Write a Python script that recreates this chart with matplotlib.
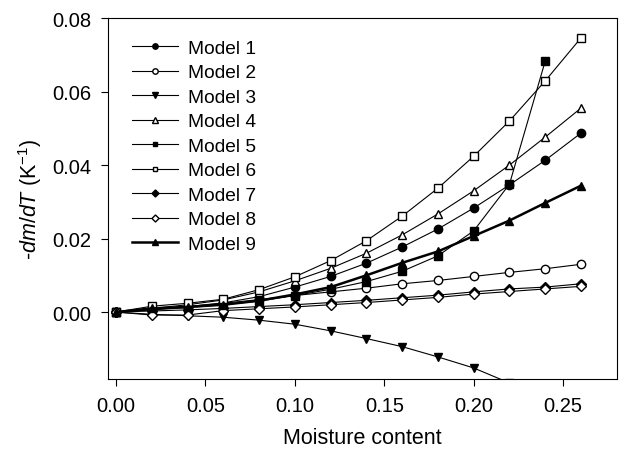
import numpy as np
import matplotlib
matplotlib.use("Agg")
import matplotlib.pyplot as plt

plt.rcParams['font.family'] = ['Liberation Sans', 'DejaVu Sans']
plt.rcParams['mathtext.fontset'] = 'custom'
plt.rcParams['mathtext.rm'] = 'Liberation Sans'
plt.rcParams['mathtext.it'] = 'Liberation Sans:italic'

# moisture content
x = [0.00, 0.02, 0.04, 0.06, 0.08, 0.10, 0.12, 0.14, 0.16, 0.18, 0.20, 0.22, 0.24, 0.26]

model1 = [0.0, 0.0007, 0.0015, 0.0025, 0.0042, 0.0068, 0.0097, 0.0133, 0.0177, 0.0226, 0.0283, 0.0346, 0.0413, 0.0487]
model2 = [0.0, 0.0008, 0.0015, 0.0024, 0.0034, 0.0045, 0.0055, 0.0065, 0.0077, 0.0086, 0.0097, 0.0108, 0.0118, 0.0130]
model3 = [0.0, -0.0006, -0.0010, -0.0014, -0.0022, -0.0033, -0.0051, -0.0072, -0.0094, -0.0122, -0.0152, -0.0193]
model4 = [0.0, 0.0010, 0.0020, 0.0033, 0.0055, 0.0085, 0.0119, 0.0160, 0.0210, 0.0267, 0.0330, 0.0400, 0.0476, 0.0555]
model5 = [0.0, 0.0006, 0.0012, 0.0020, 0.0030, 0.0045, 0.0062, 0.0083, 0.0111, 0.0153, 0.0221, 0.0348, 0.0683]
model6 = [0.0, 0.0016, 0.0024, 0.0035, 0.0061, 0.0096, 0.0140, 0.0194, 0.0261, 0.0337, 0.0424, 0.0520, 0.0629, 0.0746]
model7 = [0.0, 0.0003, 0.0006, 0.0010, 0.0015, 0.0020, 0.0026, 0.0032, 0.0039, 0.0046, 0.0055, 0.0063, 0.0068, 0.0077]
model8 = [0.0, -0.0008, -0.0008, 0.0004, 0.0009, 0.0014, 0.0020, 0.0026, 0.0033, 0.0040, 0.0049, 0.0056, 0.0063, 0.0070]
model9 = [0.0, 0.0010, 0.0014, 0.0020, 0.0031, 0.0048, 0.0068, 0.0100, 0.0134, 0.0165, 0.0207, 0.0249, 0.0297, 0.0344]

fig = plt.figure(figsize=(6.3, 4.56), dpi=100)
ax = fig.add_axes([0.1714, 0.1667, 0.8076, 0.7916])

ms = 6
ax.plot(x, model1, '-o', color='black', lw=0.8, ms=ms, mfc='black', label='Model 1')
ax.plot(x, model2, '-o', color='black', lw=0.8, ms=ms, mfc='white', label='Model 2')
ax.plot(x[:len(model3)], model3, '-v', color='black', lw=0.8, ms=ms, mfc='black', label='Model 3')
ax.plot(x, model4, '-^', color='black', lw=0.8, ms=ms, mfc='white', label='Model 4')
ax.plot(x[:len(model5)], model5, '-s', color='black', lw=0.8, ms=ms - 0.5, mfc='black', label='Model 5')
ax.plot(x, model6, '-s', color='black', lw=0.8, ms=ms - 0.5, mfc='white', label='Model 6')
ax.plot(x, model7, '-D', color='black', lw=0.8, ms=ms - 0.5, mfc='black', label='Model 7')
ax.plot(x, model8, '-D', color='black', lw=0.8, ms=ms - 0.5, mfc='white', label='Model 8')
ax.plot(x, model9, '-^', color='black', lw=1.8, ms=ms, mfc='black', label='Model 9')

ax.set_xlim(-0.0045, 0.28)
ax.set_ylim(-0.0182, 0.08)
ax.set_xticks([0.00, 0.05, 0.10, 0.15, 0.20, 0.25])
ax.set_yticks([0.00, 0.02, 0.04, 0.06, 0.08])
ax.xaxis.set_major_formatter(matplotlib.ticker.FormatStrFormatter('%.2f'))
ax.yaxis.set_major_formatter(matplotlib.ticker.FormatStrFormatter('%.2f'))
ax.tick_params(direction='out', length=5, width=0.8, labelsize=14.5, pad=7)
for s in ax.spines.values():
    s.set_linewidth(0.8)

ax.set_xlabel('Moisture content', fontsize=15.5, labelpad=9)
ax.set_ylabel(r'-$dm/dT$ (K$^{-1}$)', fontsize=15.5, labelpad=6)

ax.legend(loc='upper left', frameon=False, fontsize=13.8, handlelength=2.4,
          handletextpad=0.55, labelspacing=0.37, markerscale=0.65,
          borderaxespad=0.3, bbox_to_anchor=(0.02, 0.978))

fig.savefig('out.png', dpi=100)
